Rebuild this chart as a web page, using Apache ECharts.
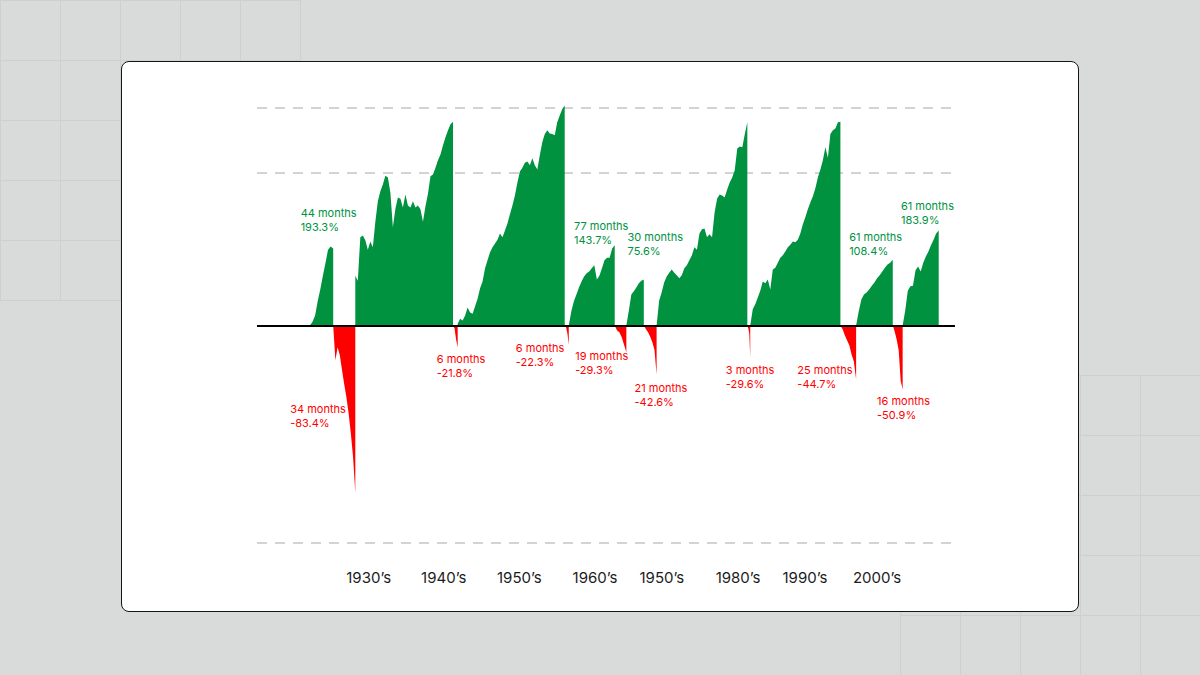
<!DOCTYPE html>
<html>
<head>
<meta charset="utf-8">
<script src="https://cdn.jsdelivr.net/npm/echarts@6/dist/echarts.min.js"></script>
<style>
  html, body { margin: 0; padding: 0; }
  body { width: 1200px; height: 675px; background: #d9dbda; position: relative; overflow: hidden; }
  .tiles {
    position: absolute; width: 301px; height: 301px;
    background-image:
      linear-gradient(to right, #cdd0cf 1px, transparent 1px),
      linear-gradient(to bottom, #cdd0cf 1px, transparent 1px);
    background-size: 60px 60px;
  }
  .card {
    position: absolute; left: 121px; top: 61px; width: 956px; height: 549px;
    background: #fff; border: 1.5px solid #151515; border-radius: 8px;
  }
  #chart { position: absolute; left: 0; top: 0; width: 1200px; height: 675px; }
</style>
</head>
<body>
<div class="tiles" style="left:0;top:0"></div>
<div class="tiles" style="left:900px;top:375px"></div>
<div class="card"></div>
<div id="chart"></div>
<script>
// months from the left edge of the axis to the first bull run
const startMonth = 91;
// length of each run in months, bull and bear alternating
const durations = [40, 38, 168, 8, 184, 7, 79, 20, 30, 22, 156, 5, 155, 27, 63, 17, 62];

// cumulative level through each run (chart index units), evenly spread over its months
const up1 = [0, 6, 16, 39, 58, 80, 100, 122, 127, 124];
const down1 = [0, -56, -35, -48, -72, -95, -116, -142, -174, -212, -269];
const up2 = [80, 72, 142, 145, 137, 122, 135, 126, 167, 200, 216, 227, 241, 238, 214, 158, 188, 206, 204, 190,
  211, 193, 190, 200, 190, 193, 187, 167, 192, 212, 240, 243, 254, 266, 275, 290, 303, 314, 324, 328];
const down2 = [0, -5, -23, -35];
const up3 = [3, 11, 8, 16, 29, 21, 19, 31, 43, 60, 71, 92, 105, 118, 126, 132, 138, 148, 142, 153, 164, 179,
  193, 209, 230, 248, 254, 262, 264, 258, 269, 258, 251, 274, 295, 308, 314, 309, 308, 306, 327, 338, 348, 354];
const down3 = [0, -3, -13, -31];
const up4 = [0, 23, 39, 50, 61, 71, 79, 84, 87, 92, 97, 74, 80, 92, 105, 109, 109, 124, 129];
const down4 = [0, -8, -11, -19, -31, -43];
const up5 = [0, 24, 50, 55, 61, 68, 72, 74];
const down5 = [0, -6, -11, -18, -27, -39, -79];
const up6 = [0, 40, 53, 69, 79, 85, 90, 85, 81, 76, 81, 92, 97, 105, 113, 126, 122, 148, 155, 156, 142, 147,
  142, 182, 204, 211, 209, 206, 219, 230, 238, 250, 285, 288, 287, 308, 327];
const down6 = [0, -5, -13, -52];
const up7 = [0, 26, 34, 45, 56, 71, 68, 74, 58, 90, 93, 101, 109, 113, 119, 126, 130, 135, 134, 138, 148,
  163, 174, 187, 198, 208, 221, 238, 251, 266, 287, 270, 308, 314, 317, 327, 328];
const down7 = [0, -6, -16, -24, -32, -47, -58, -87];
const up8 = [0, 23, 42, 50, 53, 58, 64, 69, 76, 81, 87, 93, 98, 101, 106];
const down8 = [0, -10, -23, -40, -89, -103];
const up9 = [0, 24, 56, 63, 64, 89, 95, 87, 101, 111, 119, 129, 138, 148, 153];

const runs = [up1, down1, up2, down2, up3, down3, up4, down4, up5, down5, up6, down6, up7, down7, up8, down8, up9];

// decade tick labels and the month they sit at
const decadeLabels = ['1930’s', '1940’s', '1950’s', '1960’s', '1950’s', '1980’s', '1990’s', '2000’s'];
const decadeMonths = [192, 321, 451, 581, 696, 827, 942, 1066];

// reference levels drawn as dashed lines
const guideLevels = [350, 246, -350];

// run annotations
const gainNotes = ['44 months\n193.3%', '77 months\n143.7%', '30 months\n75.6%', '61 months\n108.4%', '61 months\n183.9%'];
const gainAnchors = [[75, 193], [545, 172], [637, 154], [1018, 154], [1107, 204]];
const lossNotes = ['34 months\n-83.4%', '6 months\n-21.8%', '6 months\n-22.3%', '19 months\n-29.3%',
  '21 months\n-42.6%', '3 months\n-29.6%', '25 months\n-44.7%', '16 months\n-50.9%'];
const lossAnchors = [[57, -123], [309, -43], [445, -25], [547, -38], [649, -89], [806, -60], [929, -60], [1066, -111]];

const GREEN = '#00923f';
const RED = '#ff0000';
const FONT = 'Inter, "Open Sans", sans-serif';

function buildRuns() {
  const up = [], down = [];
  let t = startMonth;
  runs.forEach((vals, i) => {
    const dur = durations[i];
    const own = i % 2 === 0 ? up : down;
    const other = i % 2 === 0 ? down : up;
    const step = dur / (vals.length - 1);
    vals.forEach((v, k) => own.push([t + k * step, v]));
    own.push([t + dur, 0]);
    other.push([t, 0], [t + dur, 0]);
    t += dur;
  });
  return { up, down };
}

function notePoints(texts, anchors, color) {
  return texts.map((txt, i) => ({
    name: txt,
    coord: anchors[i],
    label: { color: color }
  }));
}

const noteLabel = {
  show: true,
  position: [0, 0],
  align: 'left',
  verticalAlign: 'top',
  fontSize: 11,
  lineHeight: 14,
  fontFamily: FONT,
  formatter: p => p.name
};

const data = buildRuns();

const option = {
  animation: false,
  grid: { left: 257, right: 245, top: 108, bottom: 132 },
  xAxis: {
    type: 'value',
    min: 0,
    max: 1200,
    axisLine: { show: false },
    axisTick: { show: false },
    splitLine: { show: false },
    axisLabel: {
      customValues: decadeMonths,
      formatter: function (v) {
        const i = decadeMonths.indexOf(v);
        return i < 0 ? '' : decadeLabels[i];
      },
      fontSize: 15,
      fontFamily: FONT,
      color: '#1c1c1c',
      margin: 27
    }
  },
  yAxis: {
    type: 'value',
    min: -350,
    max: 350,
    show: false,
    splitLine: { show: false }
  },
  series: [{
    // dashed guides sit behind the areas (marker z defaults to 5, so pin it low)
    name: 'guides',
    type: 'line',
    z: 1,
    data: [[0, 0]],
    showSymbol: false,
    lineStyle: { width: 0 },
    markLine: {
      z: 1,
      silent: true,
      symbol: ['none', 'none'],
      label: { show: false },
      lineStyle: { color: '#d3d3d3', width: 2, type: [10, 8] },
      data: guideLevels.map(v => ({ yAxis: v }))
    }
  }, {
    name: 'bull',
    type: 'line',
    z: 2,
    data: data.up,
    showSymbol: false,
    clip: false,
    lineStyle: { width: 0 },
    areaStyle: { color: GREEN, opacity: 1 },
    markPoint: {
      symbol: 'circle',
      symbolSize: 0,
      label: noteLabel,
      data: notePoints(gainNotes, gainAnchors, GREEN)
    }
  }, {
    name: 'bear',
    type: 'line',
    z: 3,
    data: data.down,
    showSymbol: false,
    clip: false,
    lineStyle: { width: 0 },
    areaStyle: { color: RED, opacity: 1 },
    markPoint: {
      symbol: 'circle',
      symbolSize: 0,
      label: noteLabel,
      data: notePoints(lossNotes, lossAnchors, RED)
    },
    markLine: {
      silent: true,
      symbol: ['none', 'none'],
      label: { show: false },
      lineStyle: { color: '#000', width: 2, type: 'solid' },
      data: [{ yAxis: 0 }]
    }
  }]
};

const chart = echarts.init(document.getElementById('chart'), null, { renderer: 'svg' });
chart.setOption(option);
</script>
</body>
</html>
